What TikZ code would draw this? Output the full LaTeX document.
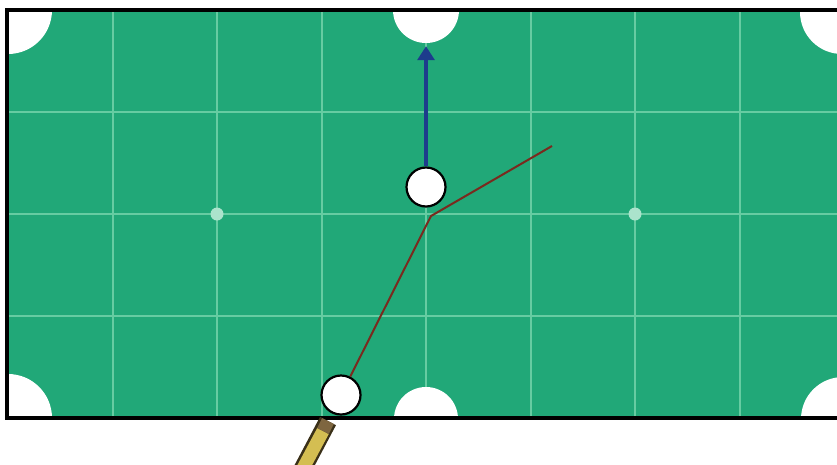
\documentclass[tikz,border=0pt]{standalone}
\usetikzlibrary{arrows.meta}
\definecolor{felt}{HTML}{21A878}
\definecolor{gridc}{HTML}{66CCA2}
\definecolor{shotblue}{HTML}{1D3C8C}
\definecolor{aimred}{HTML}{7A2A1E}
\definecolor{cuetan}{HTML}{D4BE52}
\definecolor{cuedark}{HTML}{3A3018}
\definecolor{ferrule}{HTML}{7E6640}
\tikzset{
  gridline/.style={gridc, line width=2pt},
  spotmark/.style={circle, fill=gridc!55!white, inner sep=0pt, minimum size=13pt},
  pocket/.style={circle, fill=white, inner sep=0pt},
  ball/.style={circle, fill=white, draw=black, line width=2.2pt, inner sep=0pt, minimum size=39pt},
  shot/.style={shotblue, line width=3.2pt, -{Triangle[width=17pt,length=14pt]}},
  aim/.style={aimred, line width=2pt},
  border/.style={black, line width=3.6pt}
}
\begin{document}
\begin{tikzpicture}[x=1pt,y=-1pt]
\useasboundingbox (0,0) rectangle (837,464);
\begin{scope}
\clip (0,0) rectangle (837,464);
\fill[felt] (7,10) rectangle (845,418);
\foreach \x in {112.5,217,321.5,426,530.5,635,739.5} \draw[gridline] (\x,10) -- (\x,418);
\foreach \y in {112,214,316} \draw[gridline] (7,\y) -- (845,\y);
\node[spotmark] (s1) at (217,214) {};
\node[spotmark] (s2) at (635,214) {};
\node[pocket, minimum size=88pt] (ptl) at (8,10) {};
\node[pocket, minimum size=66pt] (ptm) at (426,10) {};
\node[pocket, minimum size=84pt] (ptr) at (842,12) {};
\node[pocket, minimum size=88pt] (pbl) at (8,418) {};
\node[pocket, minimum size=64pt] (pbm) at (426,419) {};
\node[pocket, minimum size=84pt] (pbr) at (843,419) {};
\draw[border] (7,10) rectangle (845,418);
% cue stick
\coordinate (cs1) at (328,421);
\coordinate (cs2) at (323,431);
\coordinate (cs3) at (300,474);
\draw[cuedark, line width=18pt] (cs1) -- (cs3);
\draw[cuetan, line width=13pt] (cs2) -- (cs3);
\draw[ferrule, line width=13pt] (cs1) -- (cs2);
% balls
\node[ball] (cue) at (341,395) {};
\node[ball] (obj) at (426,187) {};
\coordinate (kink) at (431,216);
\coordinate (aimend) at (552,146);
\draw[aim] (cue) -- (kink) -- (aimend);
\draw[shot, shorten >=3pt] (obj) -- (ptm);
\end{scope}
\end{tikzpicture}
\end{document}
